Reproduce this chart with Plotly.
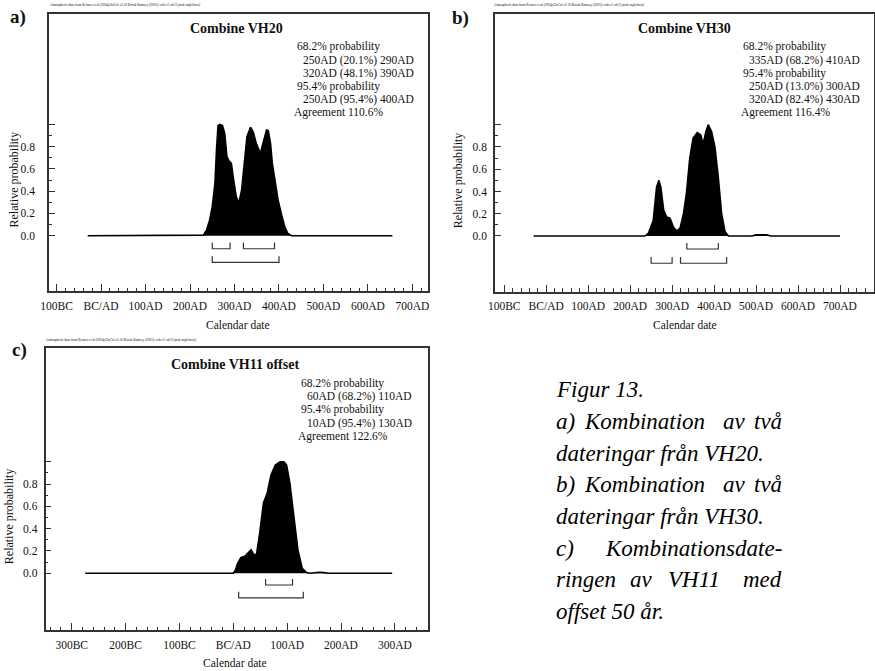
import plotly.graph_objects as go

# ---------------- data ----------------
# Panel a: Combine VH20
a_years = [-30, 225, 230, 237, 244, 250, 256, 259.5, 263, 267, 273, 278, 283, 288, 293, 297,
           304, 310, 316, 322, 328, 336, 342, 349, 358, 364, 372, 376, 381, 385, 391, 398,
           406, 413, 420, 428, 655]
a_prob = [0, 0, 0.005, 0.05, 0.14, 0.26, 0.47, 0.77, 0.99, 1.0, 0.99, 0.92, 0.71, 0.67, 0.65, 0.53,
          0.35, 0.30, 0.41, 0.65, 0.89, 0.975, 0.935, 0.83, 0.74, 0.83, 0.95, 0.945, 0.83, 0.65, 0.5, 0.32,
          0.186, 0.08, 0.02, 0, 0]
a_r68 = [(250, 290), (320, 390)]
a_r95 = [(250, 400)]
a_title = "Combine VH20"
a_text = ["68.2% probability", "250AD (20.1%) 290AD", "320AD (48.1%) 390AD",
          "95.4% probability", "250AD (95.4%) 400AD", "Agreement 110.6%"]

# Panel b: Combine VH30
b_years = [-30, 235, 243, 255, 263, 268.5, 273, 280, 287, 295, 303, 311, 319, 327, 334, 342,
           350, 360, 368, 374, 380.5, 386, 394, 402, 410, 418, 426, 434, 490, 500, 510, 525, 535, 700]
b_prob = [0, 0, 0.02, 0.14, 0.44, 0.50, 0.44, 0.23, 0.17, 0.16, 0.08, 0.045, 0.07, 0.2, 0.38, 0.70,
          0.88, 0.93, 0.91, 0.83, 0.94, 1.0, 0.94, 0.80, 0.53, 0.2, 0.04, 0, 0, 0.01, 0.01, 0.01, 0, 0]
b_r68 = [(335, 410)]
b_r95 = [(250, 300), (320, 430)]
b_title = "Combine VH30"
b_text = ["68.2% probability", "335AD (68.2%) 410AD", "95.4% probability",
          "250AD (13.0%) 300AD", "320AD (82.4%) 430AD", "Agreement 116.4%"]

# Panel c: Combine VH11 offset
c_years = [-275, 0, 4, 8, 14, 22, 28, 33, 38, 43, 49, 56, 63, 70, 78, 87, 94, 99, 105, 112,
           120, 128, 136, 143, 152, 160, 168, 176, 295]
c_prob = [0, 0, 0.03, 0.09, 0.14, 0.155, 0.185, 0.21, 0.17, 0.165, 0.36, 0.63, 0.72, 0.88, 0.97,
          1.0, 1.0, 0.97, 0.81, 0.54, 0.21, 0.045, 0.006, 0, 0.008, 0.01, 0.006, 0, 0]
c_r68 = [(60, 110)]
c_r95 = [(10, 130)]
c_title = "Combine VH11 offset"
c_text = ["68.2% probability", "60AD (68.2%) 110AD", "95.4% probability",
          "10AD (95.4%) 130AD", "Agreement 122.6%"]

y_tickvals = [0, 0.2, 0.4, 0.6, 0.8, 1.0]
y_ticktext = ["0.0", "0.2", "0.4", "0.6", "0.8", ""]
ab_xticks = [-100, 0, 100, 200, 300, 400, 500, 600, 700]
c_xticks = [-300, -200, -100, 0, 100, 200, 300]

header = "Atmospheric data from Reimer et al (2004);OxCal v3.10 Bronk Ramsey (2005); cub r:5 sd:12 prob usp[chron]"
caption = [
    ["Figur 13."],
    ["a)", "Kombination", "av", "två"],
    ["dateringar från VH20."],
    ["b)", "Kombination", "av", "två"],
    ["dateringar från VH30."],
    ["c)", "Kombinationsdate-"],
    ["ringen", "av", "VH11", "med"],
    ["offset 50 år."],
]

# ---------------- layout helpers ----------------
W, H = 875, 671
FONT = "Liberation Serif, Times New Roman, serif"


def fx(p):
    return p / W


def fy(p):
    return 1 - p / H


def year_label(v):
    if v < 0:
        return f"{-v}BC"
    if v == 0:
        return "BC/AD"
    return f"{v}AD"


fig = go.Figure()

panels = [
    dict(years=a_years, prob=a_prob, r68=a_r68, r95=a_r95, xs="x", ys="y",
         lv68=-0.117, lv95=-0.24),
    dict(years=b_years, prob=b_prob, r68=b_r68, r95=b_r95, xs="x2", ys="y2",
         lv68=-0.117, lv95=-0.245),
    dict(years=c_years, prob=c_prob, r68=c_r68, r95=c_r95, xs="x3", ys="y3",
         lv68=-0.105, lv95=-0.22),
]

TICKH = 0.055
for p in panels:
    fig.add_trace(go.Scatter(x=p["years"], y=p["prob"], mode="lines",
                             line=dict(color="black", width=1.6),
                             fill="tozeroy", fillcolor="black",
                             xaxis=p["xs"], yaxis=p["ys"], showlegend=False,
                             hoverinfo="skip"))
    bx, by = [], []
    for ranges, lv in ((p["r68"], p["lv68"]), (p["r95"], p["lv95"])):
        for lo, hi in ranges:
            bx += [lo, lo, hi, hi, None]
            by += [lv + TICKH, lv, lv, lv + TICKH, None]
    fig.add_trace(go.Scatter(x=bx, y=by, mode="lines",
                             line=dict(color="#333333", width=1.2),
                             xaxis=p["xs"], yaxis=p["ys"], showlegend=False,
                             hoverinfo="skip"))

tickfont = dict(family=FONT, size=11.5, color="#111111")


def xaxis(domain, rng, ticks, anchor):
    return dict(domain=[fx(domain[0]), fx(domain[1])], range=rng, anchor=anchor,
                automargin=False,
                tickmode="array", tickvals=ticks, ticktext=[year_label(t) for t in ticks],
                ticks="inside", ticklen=7, tickwidth=1, tickcolor="#333333",
                minor=dict(ticks="inside", ticklen=3.5, tickwidth=1, tickcolor="#333333",
                           dtick=20, tick0=0, showgrid=False),
                showline=True, linecolor="#333333", linewidth=1.5, mirror=True,
                showgrid=False, zeroline=False, tickfont=tickfont,
                ticklabelstandoff=3, fixedrange=True)


def yaxis(domain, rng, anchor, standoff):
    return dict(domain=[fy(domain[1]), fy(domain[0])], range=rng, anchor=anchor,
                automargin=False,
                tickmode="array", tickvals=y_tickvals, ticktext=y_ticktext,
                ticks="inside", ticklen=6, tickwidth=1, tickcolor="#333333",
                minor=dict(ticks="inside", ticklen=3, tickwidth=1, tickcolor="#333333",
                           tickmode="array", tickvals=[0.1, 0.3, 0.5, 0.7, 0.9], showgrid=False),
                showline=True, linecolor="#333333", linewidth=1.5, mirror=True,
                showgrid=False, zeroline=False, tickfont=tickfont,
                ticklabelstandoff=standoff, fixedrange=True)


ann = []


def text(x, y, s, size=11.5, xanchor="left", bold=False, italic=False, angle=0, color="#111111"):
    ann.append(dict(x=fx(x), y=fy(y), xref="paper", yref="paper", text=s,
                    showarrow=False, xanchor=xanchor, yanchor="middle", textangle=angle,
                    borderpad=0,
                    font=dict(family=FONT, size=size, color=color,
                              weight="bold" if bold else "normal",
                              style="italic" if italic else "normal")))


# Panel a texts
text(9, 17, "a)", size=19, bold=True)
text(49, 5, header, size=3.4)
text(236, 28.5, a_title, size=14, xanchor="center", bold=True)
a_x = [295.7, 301.7, 301.7, 295.7, 301.7, 293.3]
a_y = [46.7, 60.2, 73.4, 86.6, 99.8, 113]
for s, x, y in zip(a_text, a_x, a_y):
    text(x, y, s)
text(13.5, 180, "Relative probability", size=12, xanchor="center", angle=-90)
text(238, 325, "Calendar date", size=11.5, xanchor="center")

# Panel b texts
text(451, 18, "b)", size=19, bold=True)
text(493, 5, header, size=3.4)
text(684, 28.5, b_title, size=14, xanchor="center", bold=True)
b_x = [741.7, 748.3, 741.7, 748.3, 748.3, 740]
b_y = [46.7, 60.2, 73.4, 86.6, 99.8, 113]
for s, x, y in zip(b_text, b_x, b_y):
    text(x, y, s)
text(458.3, 180, "Relative probability", size=12, xanchor="center", angle=-90)
text(685, 325, "Calendar date", size=11.5, xanchor="center")

# Panel c texts
text(11, 350, "c)", size=19, bold=True)
text(45, 340, header, size=3.4)
text(235, 364.3, c_title, size=14, xanchor="center", bold=True)
c_x = [300, 306, 300, 306, 296.7]
c_y = [383.3, 396.6, 409.9, 423.2, 436.5]
for s, x, y in zip(c_text, c_x, c_y):
    text(x, y, s)
text(8.5, 516.7, "Relative probability", size=12, xanchor="center", angle=-90)
text(235, 663.3, "Calendar date", size=11.5, xanchor="center")

# Caption (justified by placing words)
CAP = 23
base = [396.7, 428.3, 460, 491.7, 523.3, 555, 586.7, 618.3]
L, R = 555, 783.3
for words, b in zip(caption, base):
    yc = b - 7
    if len(words) == 1:
        text(L, yc, words[0], size=CAP, italic=True, color="#000000")
    elif len(words) == 2:
        text(L, yc, words[0], size=CAP, italic=True, color="#000000")
        text(R, yc, words[1], size=CAP, italic=True, xanchor="right", color="#000000")
    elif words[0] in ("a)", "b)"):
        text(L, yc, words[0], size=CAP, italic=True, color="#000000")
        text(583.3, yc, words[1], size=CAP, italic=True, color="#000000")
        text(721.7, yc, words[2], size=CAP, italic=True, color="#000000")
        text(R, yc, words[3], size=CAP, italic=True, xanchor="right", color="#000000")
    else:
        text(L, yc, words[0], size=CAP, italic=True, color="#000000")
        text(641.7, yc, words[1], size=CAP, italic=True, xanchor="center", color="#000000")
        text(694, yc, words[2], size=CAP, italic=True, xanchor="center", color="#000000")
        text(R, yc, words[3], size=CAP, italic=True, xanchor="right", color="#000000")

fig.update_layout(
    template="none",
    width=W, height=H,
    margin=dict(l=0, r=0, t=0, b=0, pad=0, autoexpand=False),
    paper_bgcolor="white", plot_bgcolor="white",
    showlegend=False,
    xaxis=xaxis((49, 428), [-117, 735], ab_xticks, "y"),
    yaxis=yaxis((14, 291), [-0.497, 1.993], "x", 10),
    xaxis2=xaxis((495, 874), [-122, 781], ab_xticks, "y2"),
    yaxis2=yaxis((13.7, 291.5), [-0.499, 1.998], "x2", 4),
    xaxis3=xaxis((45.5, 427.7), [-348.7, 361], c_xticks, "y3"),
    yaxis3=yaxis((348.3, 630), [-0.508, 2.016], "x3", 4),
    annotations=ann,
)

fig.write_html("out.html", config={"displayModeBar": False},
               post_script="document.body.style.margin='0';document.body.style.padding='0';")
